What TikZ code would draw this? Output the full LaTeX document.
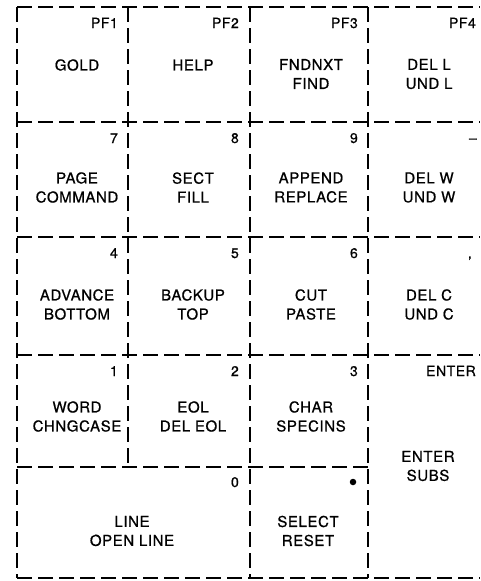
\documentclass[tikz,border=0pt]{standalone}
\usepackage{fontspec}
\setmainfont{TeX Gyre Heros}
\newfontfamily\keyfont[LetterSpace=4,FakeBold=0.8]{TeX Gyre Heros}

\begin{document}
\begin{tikzpicture}[
		x=1pt, y=-1pt,
		grid/.style={line width=2.8pt, dash pattern=on 15pt off 6pt},
		legend/.style={align=center, inner sep=0pt, font=\keyfont\fontsize{15}{19}\selectfont},
		keynum/.style={anchor=base east, inner sep=0pt, font=\keyfont\fontsize{14}{16}\selectfont}
		]
		\useasboundingbox (0,0) rectangle (480,581);
		
		% =========================
		% Key outlines (dashed grid)
		% =========================
		\draw[grid] (17,7) -- (480,7);
		\draw[grid] (17,122) -- (480,122);
		\draw[grid] (17,237) -- (480,237);
		\draw[grid] (17,355) -- (480,355);
		\draw[grid] (17,467) -- (368,467);
		\draw[grid] (17,578) -- (480,578);
		
		\draw[grid] (17,7) -- (17,578);
		\draw[grid] (128,7) -- (128,467);
		\draw[grid] (250,7) -- (250,578);
		\draw[grid] (368,7) -- (368,578);
		
		% =========================
		% Row 1: PF keys
		% =========================
		\node[keynum] (pf1) at (118,28) {PF1};
		\node[keynum] (pf2) at (239,28) {PF2};
		\node[keynum] (pf3) at (358,28) {PF3};
		\node[keynum] (pf4) at (476,28) {PF4};
		\node[legend] (gold) at (77,65) {GOLD};
		\node[legend] (help) at (193,65) {HELP};
		\node[legend] (fndnxt) at (311,74) {FNDNXT\\ FIND};
		\node[legend] (dell) at (429,74) {DEL L\\ UND L};
		
		% =========================
		% Row 2: 7 8 9 -
		% =========================
		\node[keynum] (k7) at (118,143) {7};
		\node[keynum] (k8) at (239,143) {8};
		\node[keynum] (k9) at (358,143) {9};
		\node[keynum] (kminus) at (477,143) {\textendash};
		\node[legend] (page) at (77,187.5) {PAGE\\ COMMAND};
		\node[legend] (sect) at (193,187.5) {SECT\\ FILL};
		\node[legend] (append) at (311,187.5) {APPEND\\ REPLACE};
		\node[legend] (delw) at (429,187.5) {DEL W\\ UND W};
		
		% =========================
		% Row 3: 4 5 6 ,
		% =========================
		\node[keynum] (k4) at (118,258) {4};
		\node[keynum] (k5) at (239,258) {5};
		\node[keynum] (k6) at (358,258) {6};
		\node[keynum] (kcomma) at (472,258) {,};
		\node[legend] (advance) at (77,304.5) {ADVANCE\\ BOTTOM};
		\node[legend] (backup) at (193,304.5) {BACKUP\\ TOP};
		\node[legend] (cut) at (311,304.5) {CUT\\ PASTE};
		\node[legend] (delc) at (429,304.5) {DEL C\\ UND C};
		
		% =========================
		% Row 4: 1 2 3 ENTER
		% =========================
		\node[keynum] (k1) at (118,376) {1};
		\node[keynum] (k2) at (239,376) {2};
		\node[keynum] (k3) at (358,376) {3};
		\node[keynum] (kenter) at (476,376) {ENTER};
		\node[legend] (word) at (77,416.5) {WORD\\ CHNGCASE};
		\node[legend] (eol) at (193,416.5) {EOL\\ DEL EOL};
		\node[legend] (char) at (311,416.5) {CHAR\\ SPECINS};
		\node[legend] (enter) at (428,466) {ENTER\\ SUBS};
		
		% =========================
		% Row 5: 0 .
		% =========================
		\node[keynum] (k0) at (239,487) {0};
		\node[circle, fill, inner sep=0pt, minimum size=6.5pt] (kdot) at (353,482) {};
		\node[legend] (line) at (132,531) {LINE\\ OPEN LINE};
		\node[legend] (select) at (308,531) {SELECT\\ RESET};
		
	\end{tikzpicture}
\end{document}
